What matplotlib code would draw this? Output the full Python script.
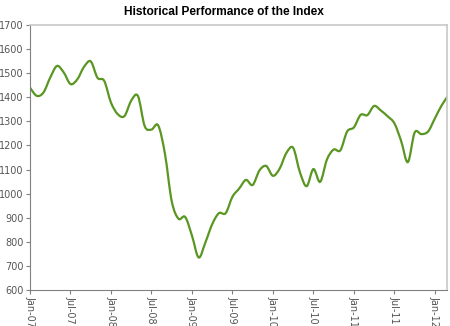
import numpy as np
import matplotlib
matplotlib.use("Agg")
import matplotlib.pyplot as plt
from matplotlib.path import Path
from matplotlib.patches import PathPatch

# month-end index levels, Jan-07 .. Mar-12
index_values = [1440, 1406, 1420, 1482, 1530, 1503, 1455, 1474, 1526, 1549, 1481, 1468,
                1378, 1330, 1322, 1386, 1405, 1280, 1266, 1283, 1165, 969, 896, 903,
                826, 735, 798, 873, 919, 919, 987, 1021, 1057, 1036, 1096, 1115,
                1074, 1104, 1169, 1190, 1089, 1031, 1102, 1049, 1141, 1183, 1180, 1258,
                1275, 1327, 1326, 1364, 1345, 1321, 1292, 1219, 1131, 1253, 1247, 1258,
                1312, 1366, 1408]
tick_labels = ["Jan-07", "Jul-07", "Jan-08", "Jul-08", "Jan-09", "Jul-09",
               "Jan-10", "Jul-10", "Jan-11", "Jul-11", "Jan-12"]


def smooth_path(x, y):
    # Catmull-Rom style bezier through every point (like a "smoothed line")
    pts = np.column_stack([x, y]).astype(float)
    verts = [pts[0]]
    codes = [Path.MOVETO]
    n = len(pts)
    for i in range(n - 1):
        p0 = pts[i - 1] if i > 0 else pts[i]
        p1, p2 = pts[i], pts[i + 1]
        p3 = pts[i + 2] if i + 2 < n else pts[i + 1]
        verts += [p1 + (p2 - p0) / 6.0, p2 - (p3 - p1) / 6.0, p2]
        codes += [Path.CURVE4] * 3
    return Path(verts, codes)


fig = plt.figure(figsize=(4.5, 3.26), dpi=100)
ax = fig.add_axes([30 / 450, 1 - 290 / 326, 417 / 450, 265 / 326])

months = np.arange(len(index_values))
ax.add_patch(PathPatch(smooth_path(months, index_values), facecolor="none",
                       edgecolor="#5a9622", linewidth=1.6, capstyle="round"))

ax.set_xlim(0, 61.8)
ax.set_ylim(600, 1700)
ax.set_yticks(np.arange(600, 1701, 100))
ax.set_xticks(np.arange(0, 61, 6))
ax.set_xticklabels(tick_labels, rotation=-90, va="top", ha="center")

for side in ["left", "bottom"]:
    ax.spines[side].set_color("#808080")
for side in ["top", "right"]:
    ax.spines[side].set_color("#c8c8c8")
    ax.spines[side].set_linewidth(1.2)
ax.tick_params(colors="#808080", labelcolor="#555555", labelsize=7,
               length=3, width=0.8, pad=1.5)

fig.text(0.497, 0.963, "Historical Performance of the Index", ha="center", va="center",
         fontsize=8.6, fontweight="bold", family="Liberation Sans")

fig.savefig("out.png", dpi=100)
